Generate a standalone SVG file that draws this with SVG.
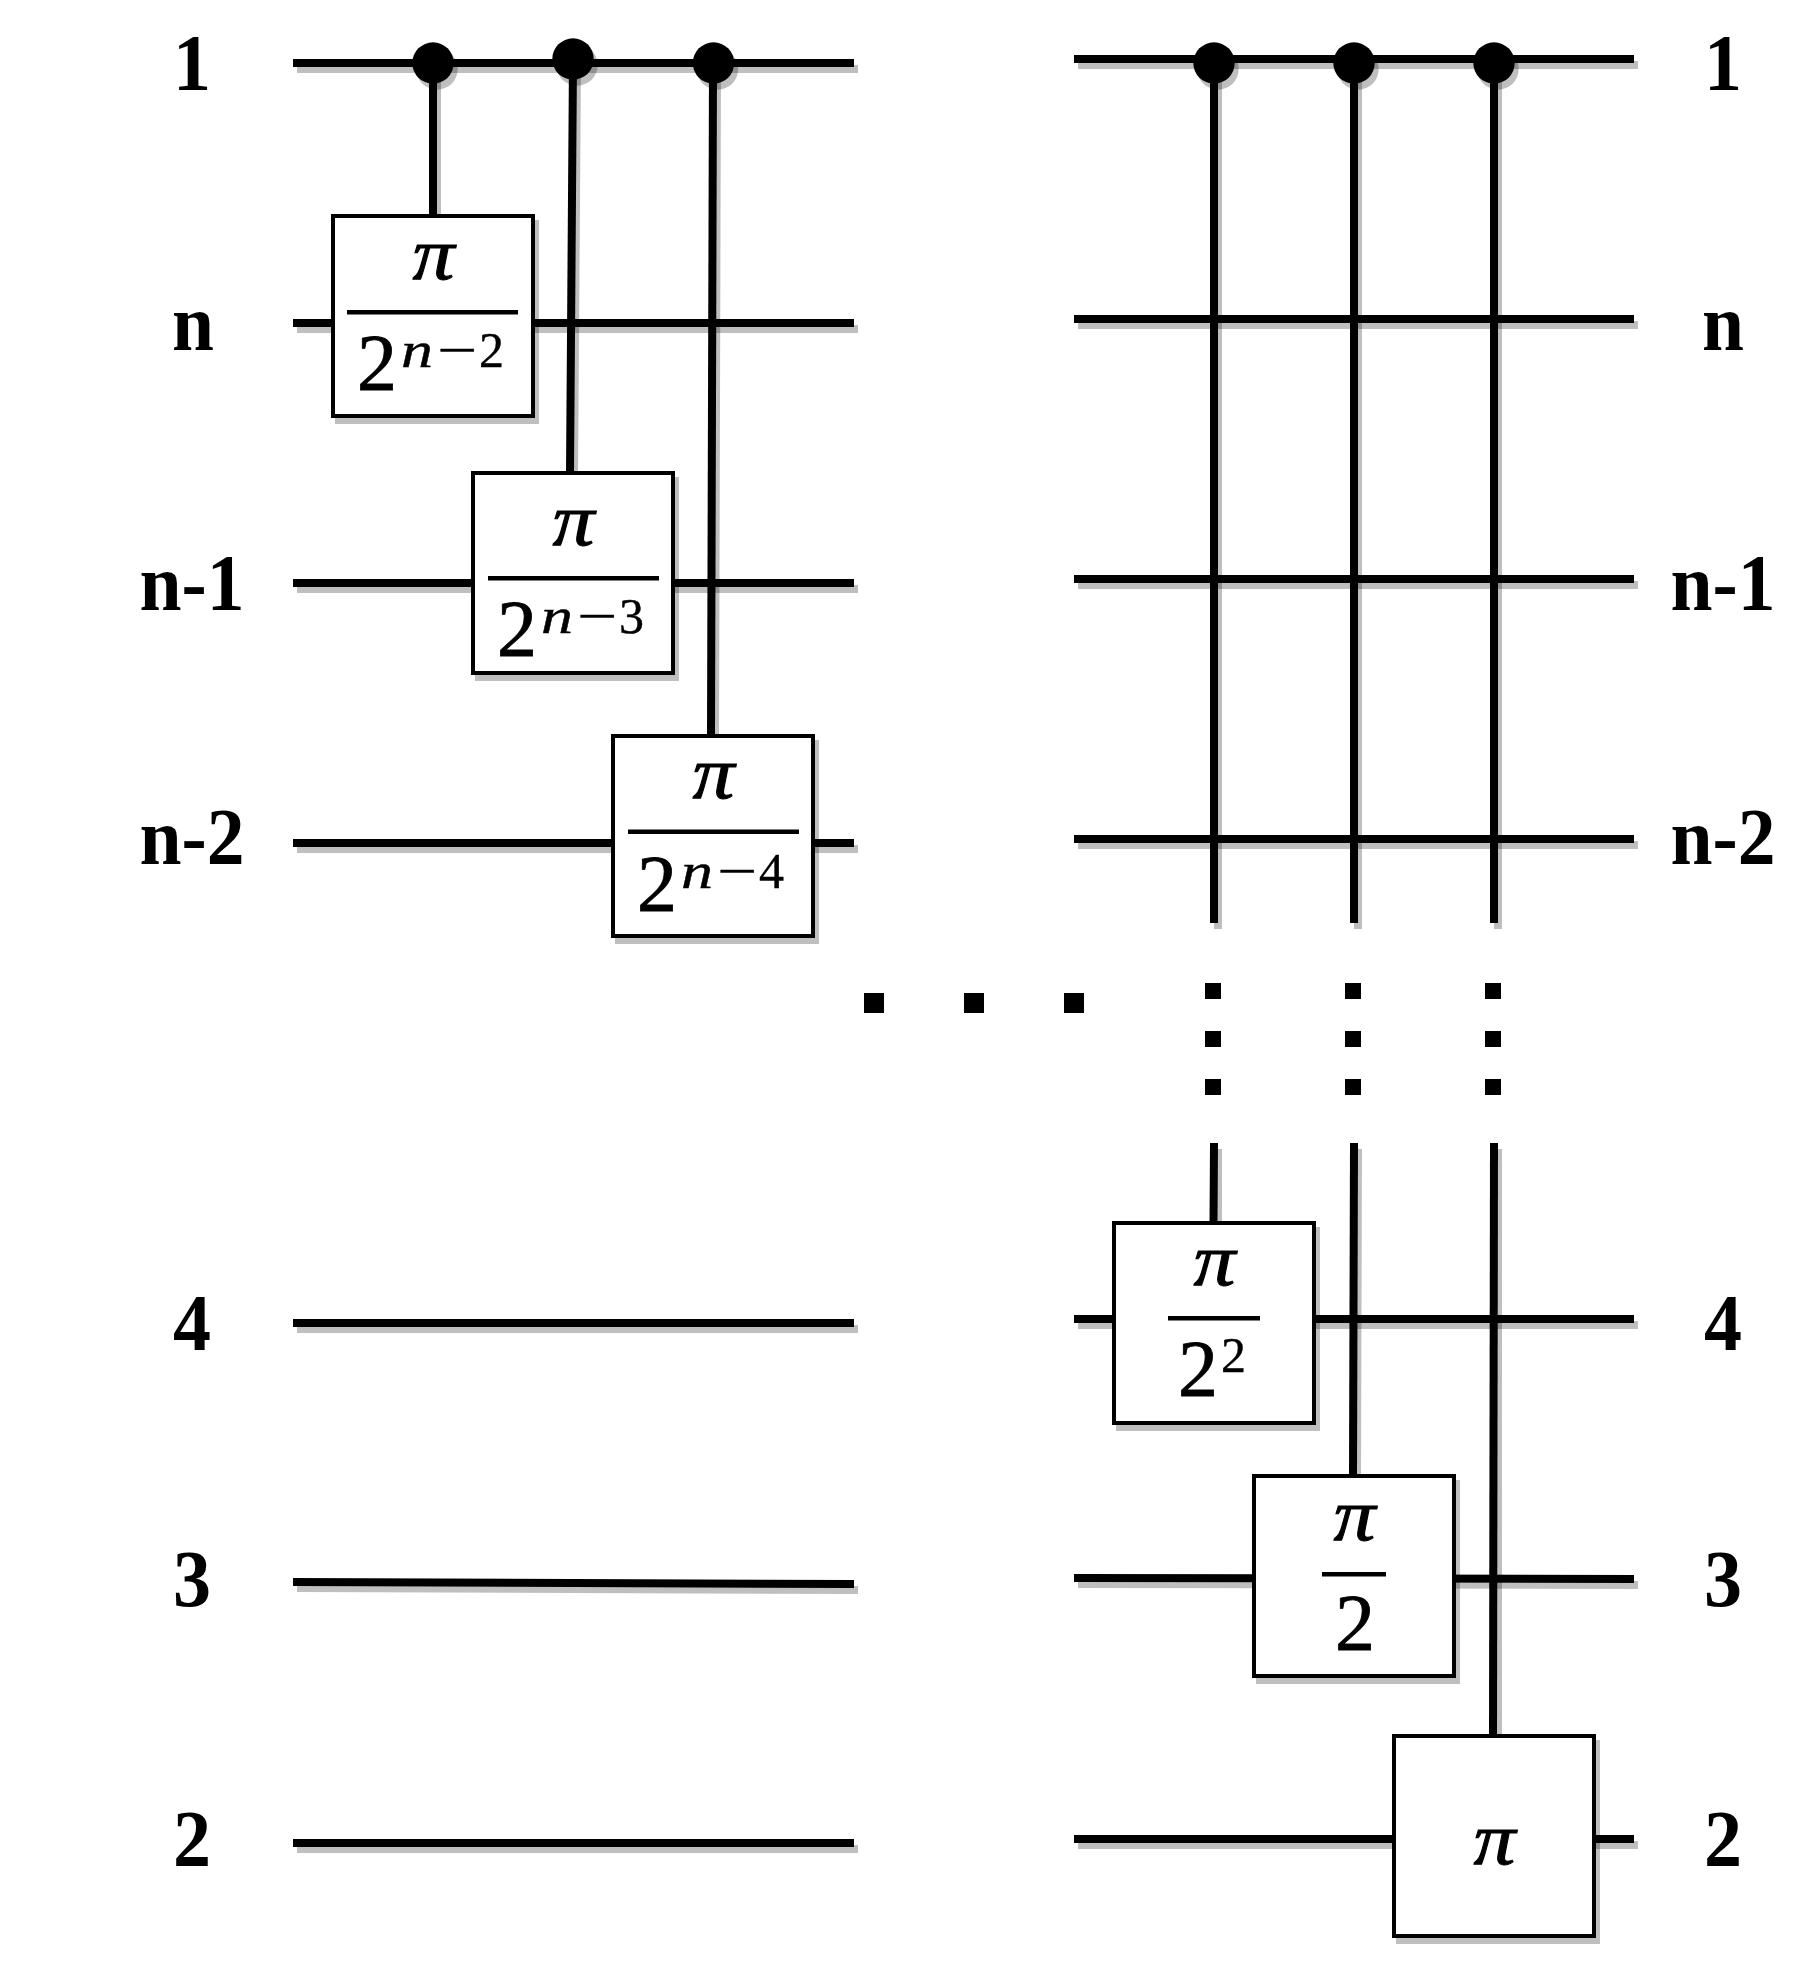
<svg xmlns="http://www.w3.org/2000/svg" width="1814" height="1966" viewBox="0 0 1814 1966">
<style>
.w{stroke:#000;stroke-width:8;fill:none}
.s{stroke:#000;stroke-opacity:.25;stroke-width:8;fill:none}
.v{stroke:#000;stroke-width:8;fill:none}
.sf{fill:#000;fill-opacity:.25;stroke:none}
.box{fill:#fff;stroke:#000;stroke-width:4}
.bar{fill:#000}
.lbl{font-family:"Liberation Serif",serif;font-weight:700;font-size:80px;text-anchor:middle;fill:#000}
.m{font-family:"Liberation Serif",serif;font-size:80px;fill:#000;stroke:#000;stroke-width:.8}
.p{font-family:"Liberation Serif",serif;font-style:italic;font-size:74px;fill:#000;stroke:#000;stroke-width:1;text-anchor:middle}
.e{font-family:"Liberation Serif",serif;font-size:50px;fill:#000;stroke:#000;stroke-width:.4}
.i{font-style:italic}
</style>
<rect width="1814" height="1966" fill="#fff"/>
<g id="connectors">
<g id="wire-shadows">
<path class="s" d="M297 69H858"/><path class="s" d="M297 329H858"/><path class="s" d="M297 589H858"/><path class="s" d="M297 849H858"/>
<path class="s" d="M297 1329H858"/><path class="s" d="M297 1588L858 1590"/><path class="s" d="M297 1849H858"/>
<path class="s" d="M1078 65H1638"/><path class="s" d="M1078 325H1638"/><path class="s" d="M1078 585H1638"/><path class="s" d="M1078 845H1638"/>
<path class="s" d="M1078 1325H1638"/><path class="s" d="M1078 1584L1638 1585"/><path class="s" d="M1078 1845H1638"/>
<path class="s" d="M437 69V220"/><path class="s" d="M577 65L574 477"/><path class="s" d="M717 69L715 741"/>
<path class="s" d="M1218 69V929"/><path class="s" d="M1358 69V929"/><path class="s" d="M1498 69V929"/>
<path class="s" d="M1218 1149V1229"/><path class="s" d="M1358 1149L1357 1482"/><path class="s" d="M1498 1149V1742"/>
</g>
<g id="wires">
<path class="w" d="M293 63H854"/><path class="w" d="M293 323H854"/><path class="w" d="M293 583H854"/><path class="w" d="M293 843H854"/>
<path class="w" d="M293 1323H854"/><path class="w" d="M293 1582L854 1584"/><path class="w" d="M293 1843H854"/>
<path class="w" d="M1074 59H1634"/><path class="w" d="M1074 319H1634"/><path class="w" d="M1074 579H1634"/><path class="w" d="M1074 839H1634"/>
<path class="w" d="M1074 1319H1634"/><path class="w" d="M1074 1578L1634 1579"/><path class="w" d="M1074 1839H1634"/>
</g>
<g id="controls">
<path class="v" d="M433 63V216"/><path class="v" d="M573 59L570 473"/><path class="v" d="M713 63L711 736"/>
<path class="v" d="M1214 63V923"/><path class="v" d="M1354 63V923"/><path class="v" d="M1494 63V923"/>
<path class="v" d="M1214 1143L1213.5 1223"/><path class="v" d="M1354 1143L1353 1476"/><path class="v" d="M1494 1143L1493 1736"/>
</g>
</g>
<g id="dots">
<rect x="864" y="993" width="20" height="20"/><rect x="964" y="993" width="20" height="20"/><rect x="1064" y="993" width="20" height="20"/>
<rect x="1205" y="983" width="16" height="16"/><rect x="1205" y="1031" width="16" height="16"/><rect x="1205" y="1079" width="16" height="16"/>
<rect x="1345" y="983" width="16" height="16"/><rect x="1345" y="1031" width="16" height="16"/><rect x="1345" y="1079" width="16" height="16"/>
<rect x="1485" y="983" width="16" height="16"/><rect x="1485" y="1031" width="16" height="16"/><rect x="1485" y="1079" width="16" height="16"/>
</g>
<g id="ctrl-l1"><circle class="sf" cx="437" cy="69" r="20.7"/><circle cx="433" cy="63" r="20.7"/></g>
<g id="ctrl-l2"><circle class="sf" cx="577" cy="65" r="20.7"/><circle cx="573" cy="59" r="20.7"/></g>
<g id="ctrl-l3"><circle class="sf" cx="717.5" cy="69" r="20.7"/><circle cx="713.5" cy="63" r="20.7"/></g>
<g id="ctrl-r1"><circle class="sf" cx="1218" cy="69" r="20.7"/><circle cx="1214" cy="63" r="20.7"/></g>
<g id="ctrl-r2"><circle class="sf" cx="1358" cy="69" r="20.7"/><circle cx="1354" cy="63" r="20.7"/></g>
<g id="ctrl-r3"><circle class="sf" cx="1498" cy="69" r="20.7"/><circle cx="1494" cy="63" r="20.7"/></g>
<g id="gate-l1">
<rect class="sf" x="335" y="220" width="204" height="204"/><rect class="box" x="333" y="216" width="200" height="200"/>
<text class="p" x="433.5" y="279" textLength="42" lengthAdjust="spacingAndGlyphs">π</text><rect class="bar" x="347" y="310" width="171" height="4.5"/>
<text class="m" x="357" y="390">2</text>
<text class="e" y="367"><tspan class="i" x="401" textLength="32" lengthAdjust="spacingAndGlyphs">n</tspan><tspan x="437" textLength="40" lengthAdjust="spacingAndGlyphs">−</tspan><tspan x="479">2</tspan></text>
</g>
<g id="gate-l2">
<rect class="sf" x="475" y="477" width="204" height="204"/><rect class="box" x="473" y="473" width="200" height="200"/>
<text class="p" x="573.5" y="545" textLength="42" lengthAdjust="spacingAndGlyphs">π</text><rect class="bar" x="488" y="576" width="171" height="4.5"/>
<text class="m" x="497" y="656">2</text>
<text class="e" y="633"><tspan class="i" x="541" textLength="32" lengthAdjust="spacingAndGlyphs">n</tspan><tspan x="577" textLength="40" lengthAdjust="spacingAndGlyphs">−</tspan><tspan x="619">3</tspan></text>
</g>
<g id="gate-l3">
<rect class="sf" x="615" y="740" width="204" height="204"/><rect class="box" x="613" y="736" width="200" height="200"/>
<text class="p" x="713.5" y="798" textLength="42" lengthAdjust="spacingAndGlyphs">π</text><rect class="bar" x="628" y="829.5" width="171" height="4.5"/>
<text class="m" x="637" y="911">2</text>
<text class="e" y="888"><tspan class="i" x="681" textLength="32" lengthAdjust="spacingAndGlyphs">n</tspan><tspan x="717" textLength="40" lengthAdjust="spacingAndGlyphs">−</tspan><tspan x="759">4</tspan></text>
</g>
<g id="gate-r1">
<rect class="sf" x="1116" y="1227" width="204" height="204"/><rect class="box" x="1114" y="1223" width="200" height="200"/>
<text class="p" x="1214.5" y="1285" textLength="42" lengthAdjust="spacingAndGlyphs">π</text><rect class="bar" x="1168" y="1316" width="92" height="4.5"/>
<text class="m" x="1178" y="1396">2</text><text class="e" x="1221" y="1372">2</text>
</g>
<g id="gate-r2">
<rect class="sf" x="1256" y="1480" width="204" height="204"/><rect class="box" x="1254" y="1476" width="200" height="200"/>
<text class="p" x="1354.5" y="1540" textLength="42" lengthAdjust="spacingAndGlyphs">π</text><rect class="bar" x="1322" y="1572" width="64" height="4.5"/>
<text class="m" x="1335" y="1650">2</text>
</g>
<g id="gate-r3">
<rect class="sf" x="1396" y="1740" width="204" height="204"/><rect class="box" x="1394" y="1736" width="200" height="200"/>
<text class="p" x="1494.5" y="1864" textLength="42" lengthAdjust="spacingAndGlyphs">π</text>
</g>
<g id="labels-left">
<text class="lbl" x="192" y="90" textLength="38" lengthAdjust="spacingAndGlyphs">1</text><text class="lbl" x="193" y="350" textLength="42" lengthAdjust="spacingAndGlyphs">n</text><text class="lbl" x="192" y="610" textLength="105" lengthAdjust="spacingAndGlyphs">n-1</text><text class="lbl" x="192" y="864" textLength="105" lengthAdjust="spacingAndGlyphs">n-2</text>
<text class="lbl" x="192" y="1350" textLength="38" lengthAdjust="spacingAndGlyphs">4</text><text class="lbl" x="192" y="1606" textLength="38" lengthAdjust="spacingAndGlyphs">3</text><text class="lbl" x="192" y="1866" textLength="38" lengthAdjust="spacingAndGlyphs">2</text>
</g>
<g id="labels-right">
<text class="lbl" x="1723" y="90" textLength="38" lengthAdjust="spacingAndGlyphs">1</text><text class="lbl" x="1723" y="350" textLength="42" lengthAdjust="spacingAndGlyphs">n</text><text class="lbl" x="1723" y="610" textLength="105" lengthAdjust="spacingAndGlyphs">n-1</text><text class="lbl" x="1723" y="864" textLength="105" lengthAdjust="spacingAndGlyphs">n-2</text>
<text class="lbl" x="1723" y="1350" textLength="38" lengthAdjust="spacingAndGlyphs">4</text><text class="lbl" x="1723" y="1606" textLength="38" lengthAdjust="spacingAndGlyphs">3</text><text class="lbl" x="1723" y="1866" textLength="38" lengthAdjust="spacingAndGlyphs">2</text>
</g>
</svg>
